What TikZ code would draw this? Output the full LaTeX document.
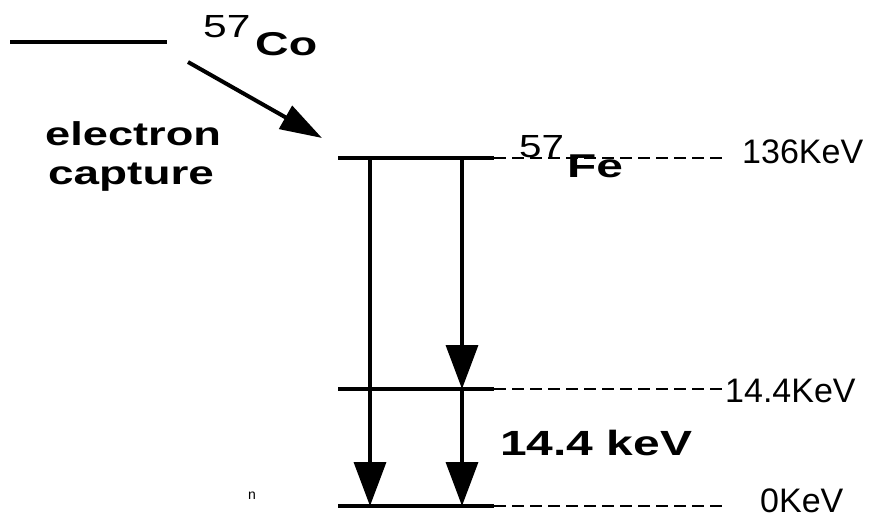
\documentclass[tikz,border=0pt]{standalone}
\usepackage{fontspec}
\usepackage{graphicx}
\setmainfont{Liberation Sans}
\usetikzlibrary{arrows.meta}
\tikzset{
  lvl/.style={line width=3.5pt},
  dsh/.style={line width=2pt, dash pattern=on 12pt off 6pt},
  trans/.style={line width=3.5pt, -{Triangle[length=44pt,width=32pt]}},
  lbl/.style={inner sep=0pt, anchor=base west, font=\fontsize{34}{40}\selectfont},
  blbl/.style={inner sep=0pt, anchor=base west, font=\fontsize{34}{40}\selectfont\bfseries},
}
\begin{document}
\begin{tikzpicture}[x=1pt,y=-1pt]
\useasboundingbox[fill=white] (0,0) rectangle (872,520);
% Co level
\coordinate (co1) at (10,42);
\coordinate (co2) at (167,42);
\draw[line width=3.5pt] (co1) -- (co2);
\node[lbl, font=\fontsize{32}{36}\selectfont] (co57) at (203,37) {\scalebox{1.33}[1]{57}};
\node[blbl, font=\fontsize{33}{38}\selectfont\bfseries] (co) at (255,55) {\scalebox{1.41}[1]{Co}};
% electron capture arrow
\coordinate (ecs) at (188,62);
\coordinate (ece) at (322,138);
\draw[line width=4pt, -{Triangle[length=42pt,width=26pt]}] (ecs) -- (ece);
\node[blbl, font=\fontsize{33}{38}\selectfont\bfseries] (el) at (45,145) {\scalebox{1.37}[1]{electron}};
\node[blbl, font=\fontsize{33}{38}\selectfont\bfseries] (cap) at (48,184) {\scalebox{1.39}[1]{capture}};
% levels
\coordinate (t1) at (338,158);
\coordinate (t2) at (494,158);
\coordinate (t3) at (725,158);
\coordinate (m1) at (338,389);
\coordinate (m2) at (494,389);
\coordinate (m3) at (725,389);
\coordinate (b1) at (338,506);
\coordinate (b2) at (494,506);
\coordinate (b3) at (722,506);
\node[lbl, font=\fontsize{32}{36}\selectfont] (fe57) at (519,157) {\scalebox{1.26}[1]{57}};
\node[blbl, font=\fontsize{33}{38}\selectfont\bfseries] (fe) at (567,177) {\scalebox{1.45}[1]{Fe}};
\draw[lvl] (t1) -- (t2);
\draw[lvl] (m1) -- (m2);
\draw[lvl] (b1) -- (b2);
\draw[dsh] (t2) -- (t3);
\draw[dsh] (m2) -- (m3);
\draw[dsh] (b2) -- (b3);
% transitions
\coordinate (la) at (370,158);
\coordinate (lb) at (370,506);
\coordinate (ra) at (462,158);
\coordinate (rm) at (462,389);
\coordinate (rb) at (462,506);
\draw[trans] (la) -- (lb);
\draw[trans] (ra) -- (rm);
\draw[trans] (rm) -- (rb);
% labels
\node[lbl] (e136) at (742,163) {136KeV};
\node[lbl] (e144) at (725,402) {14.4KeV};
\node[lbl] (e0) at (760,512) {0KeV};
\node[blbl, font=\fontsize{35}{40}\selectfont\bfseries] (g) at (500,455) {\scalebox{1.37}[1]{14.4 keV}};
\node[lbl, font=\fontsize{14}{16}\selectfont] (n) at (248,499) {n};
\end{tikzpicture}
\end{document}
